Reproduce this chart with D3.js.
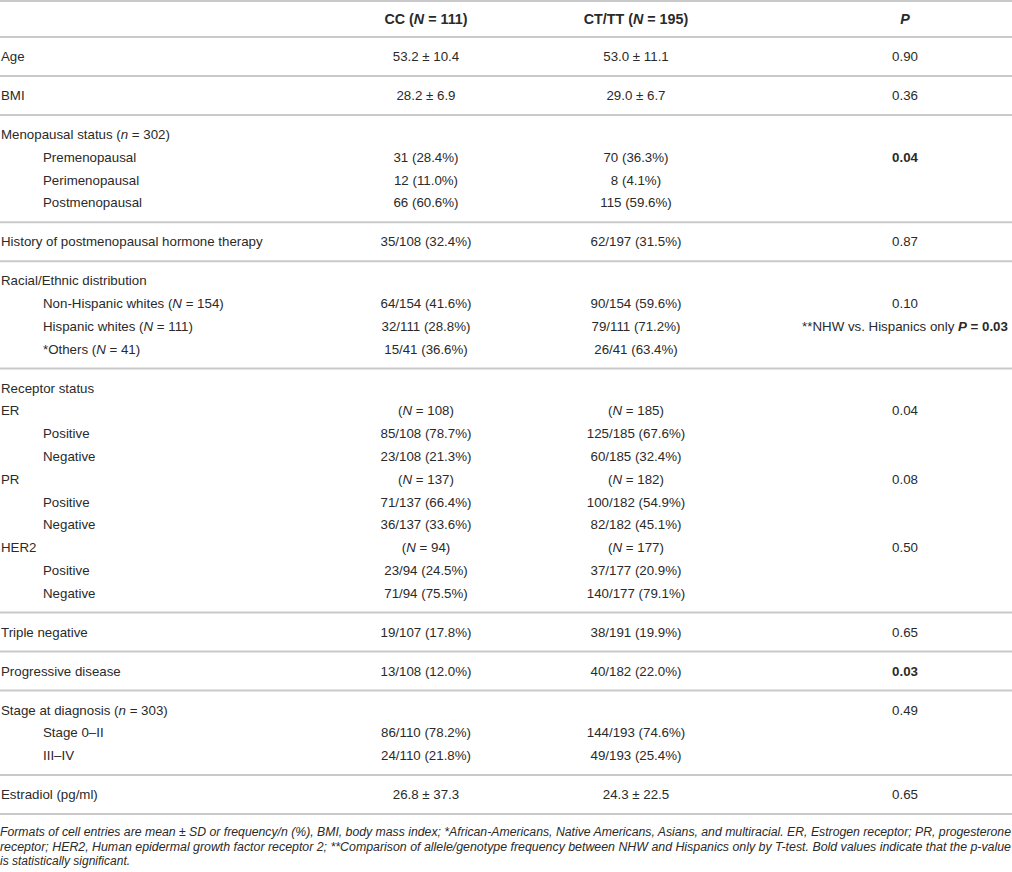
<!DOCTYPE html>
<html>
<head>
<meta charset="utf-8">
<script src="https://cdn.jsdelivr.net/npm/d3@7"></script>
<style>
  html, body { margin: 0; padding: 0; background: #fff; }
  svg { display: block; }
  text { font-family: "Liberation Sans", Arial, Helvetica, sans-serif; fill: #2a2a2a; }
</style>
</head>
<body>
<svg id="chart" width="1012" height="872"></svg>
<script>
// Markup: _x_ = italic, ^x^ = bold
const headers = ["", "^CC (_N_ = 111)^", "^CT/TT (_N_ = 195)^", "^_P_^"];

const labels = [
  "Age", "BMI",
  "Menopausal status (_n_ = 302)", "Premenopausal", "Perimenopausal", "Postmenopausal",
  "History of postmenopausal hormone therapy",
  "Racial/Ethnic distribution", "Non-Hispanic whites (_N_ = 154)", "Hispanic whites (_N_ = 111)", "*Others (_N_ = 41)",
  "Receptor status", "ER", "Positive", "Negative", "PR", "Positive", "Negative", "HER2", "Positive", "Negative",
  "Triple negative", "Progressive disease",
  "Stage at diagnosis (_n_ = 303)", "Stage 0–II", "III–IV",
  "Estradiol (pg/ml)"
];
const indents = [0,0, 0,1,1,1, 0, 0,1,1,1, 0,0,1,1,0,1,1,0,1,1, 0,0, 0,1,1, 0];
const blocks  = [0,1, 2,2,2,2, 3, 4,4,4,4, 5,5,5,5,5,5,5,5,5,5, 6,7, 8,8,8, 9];

const ccValues = [
  "53.2 ± 10.4", "28.2 ± 6.9",
  "", "31 (28.4%)", "12 (11.0%)", "66 (60.6%)",
  "35/108 (32.4%)",
  "", "64/154 (41.6%)", "32/111 (28.8%)", "15/41 (36.6%)",
  "", "(_N_ = 108)", "85/108 (78.7%)", "23/108 (21.3%)", "(_N_ = 137)", "71/137 (66.4%)", "36/137 (33.6%)",
  "(_N_ = 94)", "23/94 (24.5%)", "71/94 (75.5%)",
  "19/107 (17.8%)", "13/108 (12.0%)",
  "", "86/110 (78.2%)", "24/110 (21.8%)",
  "26.8 ± 37.3"
];
const ctValues = [
  "53.0 ± 11.1", "29.0 ± 6.7",
  "", "70 (36.3%)", "8 (4.1%)", "115 (59.6%)",
  "62/197 (31.5%)",
  "", "90/154 (59.6%)", "79/111 (71.2%)", "26/41 (63.4%)",
  "", "(_N_ = 185)", "125/185 (67.6%)", "60/185 (32.4%)", "(_N_ = 182)", "100/182 (54.9%)", "82/182 (45.1%)",
  "(_N_ = 177)", "37/177 (20.9%)", "140/177 (79.1%)",
  "38/191 (19.9%)", "40/182 (22.0%)",
  "", "144/193 (74.6%)", "49/193 (25.4%)",
  "24.3 ± 22.5"
];
const pValues = [
  "0.90", "0.36",
  "", "^0.04^", "", "",
  "0.87",
  "", "0.10", "**NHW vs. Hispanics only ^_P_ = 0.03^", "",
  "", "0.04", "", "", "0.08", "", "", "0.50", "", "",
  "0.65", "^0.03^",
  "0.49", "", "",
  "0.65"
];

const footnotes = [
  "Formats of cell entries are mean ± SD or frequency/n (%), BMI, body mass index; *African-Americans, Native Americans, Asians, and multiracial. ER, Estrogen receptor; PR, progesterone",
  "receptor; HER2, Human epidermal growth factor receptor 2; **Comparison of allele/genotype frequency between NHW and Hispanics only by T-test. Bold values indicate that the p-value",
  "is statistically significant."
];

// ---------- layout ----------
const W = 1012;
const BODY_SIZE = 13.3, HEAD_SIZE = 14.3, FOOT_SIZE = 12;
const svg = d3.select("#chart");

const ROW_H = 39;      // height of a one-line block
const SUB = 22.76;     // step between lines inside a block
const HEADER_TOP = 1, HEADER_BOTTOM = 37;

// block sizes derived from data
const blockIds = Array.from(new Set(blocks));
const blockCounts = blockIds.map(b => blocks.filter(x => x === b).length);
const blockHeights = blockCounts.map(n => ROW_H + (n - 1) * SUB);
const blockTops = [];
blockHeights.reduce((acc, h, i) => { blockTops[i] = acc; return acc + h; }, HEADER_BOTTOM);
const tableBottom = blockTops[blockTops.length - 1] + blockHeights[blockHeights.length - 1];

// position within block
const rowIndexInBlock = blocks.map((b, i) => blocks.slice(0, i).filter(x => x === b).length);
const yRow = i => blockTops[blocks[i]] + ROW_H / 2 + rowIndexInBlock[i] * SUB;

// column scale
const colX = d3.scaleOrdinal().domain([1, 2, 3]).range([426, 636, 905]);
const labelX = d3.scaleOrdinal().domain([0, 1]).range([1, 43]);

// parse markup into tspans
function parse(str) {
  const segs = [];
  let it = false, bd = false, buf = "";
  for (const ch of str) {
    if (ch === "_" || ch === "^") {
      if (buf) segs.push({ t: buf, it, bd });
      buf = "";
      if (ch === "_") it = !it; else bd = !bd;
    } else buf += ch;
  }
  if (buf) segs.push({ t: buf, it, bd });
  return segs;
}
function writeText(g, str, x, y, anchor, size) {
  const t = g.append("text")
    .attr("x", x).attr("y", y).attr("dy", "0.35em")
    .attr("text-anchor", anchor)
    .style("font-size", size + "px");
  parse(str).forEach(s => {
    t.append("tspan").text(s.t)
      .style("font-style", s.it ? "italic" : "normal")
      .style("font-weight", s.bd ? "bold" : "normal");
  });
  return t;
}

// horizontal rules
const ruleYs = [HEADER_TOP, HEADER_BOTTOM, ...blockTops.slice(1), tableBottom];
svg.append("g").selectAll("line").data(ruleYs).join("line")
  .attr("x1", 0).attr("x2", W)
  .attr("y1", d => d).attr("y2", d => d)
  .attr("stroke", "#c9c9c9").attr("stroke-width", 2);

// header
const gh = svg.append("g");
const headerY = (HEADER_TOP + HEADER_BOTTOM) / 2;
headers.forEach((h, c) => { if (h) writeText(gh, h, colX(c), headerY, "middle", HEAD_SIZE); });

// body
const gb = svg.append("g");
labels.forEach((lab, i) => {
  const y = yRow(i);
  writeText(gb, lab, labelX(indents[i]), y, "start", BODY_SIZE);
  if (ccValues[i]) writeText(gb, ccValues[i], colX(1), y, "middle", BODY_SIZE);
  if (ctValues[i]) writeText(gb, ctValues[i], colX(2), y, "middle", BODY_SIZE);
  if (pValues[i]) writeText(gb, pValues[i], colX(3), y, "middle", BODY_SIZE);
});

// footnotes
const gf = svg.append("g");
footnotes.forEach((f, i) => {
  const t = gf.append("text")
    .attr("x", 0).attr("y", tableBottom + 18 + i * 14.6).attr("dy", "0.35em")
    .style("font-size", FOOT_SIZE + "px").style("font-style", "italic")
    .text(f);
  if (i < footnotes.length - 1) t.attr("textLength", W - 1).attr("lengthAdjust", "spacingAndGlyphs");
});
</script>
</body>
</html>
